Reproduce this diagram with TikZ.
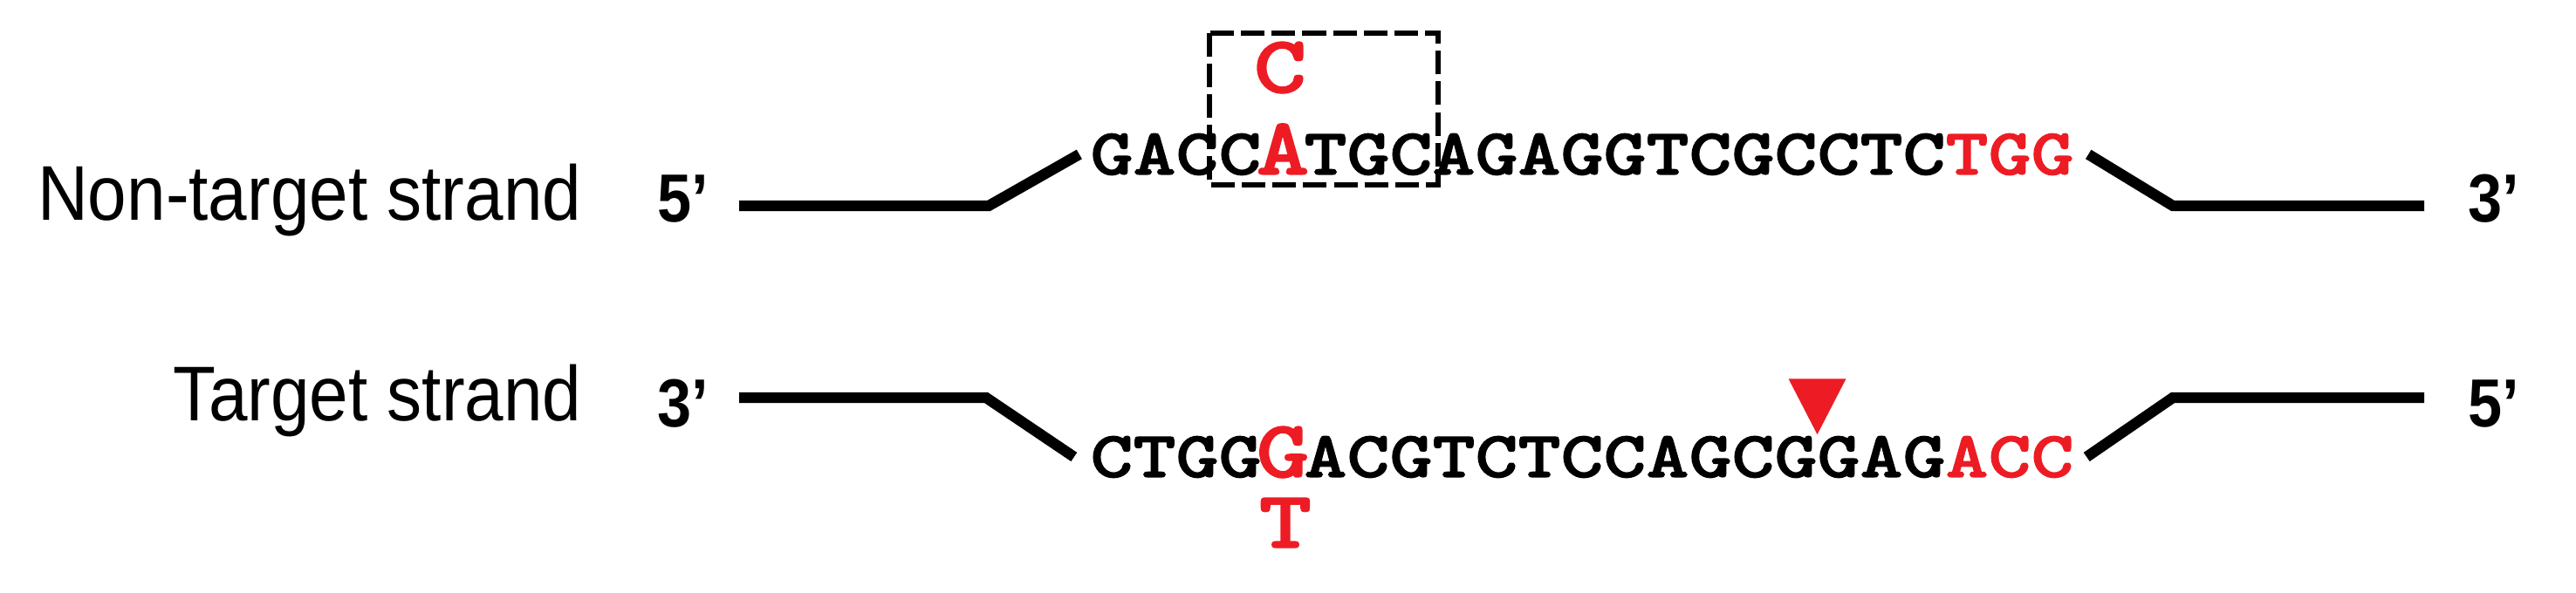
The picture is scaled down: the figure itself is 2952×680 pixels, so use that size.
\documentclass[tikz,border=0pt]{standalone}
\usepackage{fontspec}
\setmainfont{Liberation Sans}
\newfontfamily\narrowfont[FakeStretch=0.9]{Liberation Sans}
\newfontfamily\seqfont[FakeStretch=1.24,BoldFeatures={FakeBold=1.6}]{Latin Modern Mono Light}
\usetikzlibrary{calc}
\definecolor{editred}{RGB}{237,28,36}

\begin{document}
\begin{tikzpicture}[x=0.01cm,y=-0.01cm,
    strand/.style={line width=3.5pt},
    editbox/.style={line width=1.6pt,dash pattern=on 7.7pt off 2.3pt},
    lab/.style={inner sep=0pt,anchor=base east,font=\fontsize{25.3}{30}\selectfont\narrowfont},
    prime/.style={inner sep=0pt,anchor=base west,font=\fontsize{22.2}{26}\selectfont\narrowfont\bfseries},
    seq/.style={inner sep=0pt,anchor=base,text height=4.6mm,text depth=0pt,font=\fontsize{21.4}{26}\selectfont\seqfont\bfseries},
    pam/.style={seq,text=editred},
    mut/.style={seq,text=editred,font=\fontsize{26.5}{30}\selectfont\seqfont\bfseries}]
  \useasboundingbox (0,0) rectangle (2952,680);
  \def\pitch{49}
  % non-target strand
  \node[lab] (ntlab) at (667,253) {Non-target strand};
  \node[prime] (nt5) at (753,255) {5’};
  \node[prime] (nt3) at (2828,255) {3’};
  \foreach \b/\s [count=\i from 0] in {G/seq,A/seq,C/seq,C/seq,A/mut,T/seq,G/seq,C/seq,A/seq,G/seq,A/seq,G/seq,G/seq,T/seq,C/seq,G/seq,C/seq,C/seq,T/seq,C/seq,T/pam,G/pam,G/pam}
    \node[\s] (nt\i) at (1274+\pitch*\i,200) {\b};
  \node[mut] (ntedit) at ($(nt4.base)+(-3,-94)$) {C};
  \draw[editbox] (1386,38) rectangle (1648,212);
  \coordinate (ntA) at (847,236);
  \coordinate (ntB) at (1133,236);
  \coordinate (ntC) at (2490,236);
  \coordinate (ntD) at (2778,236);
  \draw[strand] (ntA) -- (ntB) -- ($(nt0.west)+(-12,0)$);
  \draw[strand] ($(nt22.east)+(16,0)$) -- (ntC) -- (ntD);
  % target strand
  \node[lab] (tglab) at (667,483) {Target strand};
  \node[prime] (tg3) at (753,490) {3’};
  \node[prime] (tg5) at (2828,490) {5’};
  \foreach \b/\s [count=\i from 0] in {C/seq,T/seq,G/seq,G/seq,G/mut,A/seq,C/seq,G/seq,T/seq,C/seq,T/seq,C/seq,C/seq,A/seq,G/seq,C/seq,G/seq,G/seq,A/seq,G/seq,A/pam,C/pam,C/pam}
    \node[\s] (tg\i) at (1274+\pitch*\i,547) {\b};
  \node[mut] (tgedit) at ($(tg4.base)+(3,81)$) {T};
  \coordinate (tgA) at (847,456);
  \coordinate (tgB) at (1130,456);
  \coordinate (tgC) at (2490,456);
  \coordinate (tgD) at (2778,456);
  \draw[strand] (tgA) -- (tgB) -- ($(tg0.west)+(-18,0)$);
  \draw[strand] ($(tg22.east)+(14,0)$) -- (tgC) -- (tgD);
  % cut site
  \coordinate (cut) at ($(tg16.north east)!0.5!(tg17.north west)$);
  \fill[editred] ($(cut)+(0,-2)$) -- ++(-33,-64) -- ++(66,0) -- cycle;
\end{tikzpicture}
\end{document}
